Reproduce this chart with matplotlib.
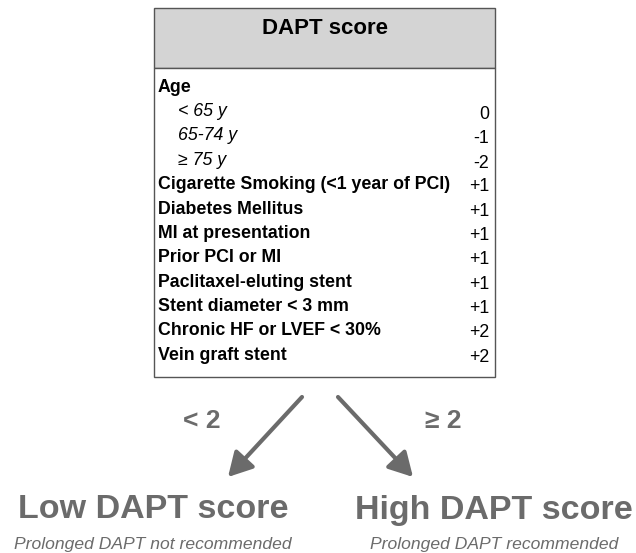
import matplotlib
import matplotlib.pyplot as plt
from matplotlib.patches import Rectangle, FancyArrowPatch

matplotlib.use('Agg')
plt.rcParams['font.family'] = ['Liberation Sans', 'DejaVu Sans']

# Score table content
title = "DAPT score"
age_header = "Age"
age_groups = ["< 65 y", "65-74 y", "\u2265 75 y"]
age_points = ["0", "-1", "-2"]
factors = ["Cigarette Smoking (<1 year of PCI)", "Diabetes Mellitus", "MI at presentation",
           "Prior PCI or MI", "Paclitaxel-eluting stent", "Stent diameter < 3 mm",
           "Chronic HF or LVEF < 30%", "Vein graft stent"]
factor_points = ["+1", "+1", "+1", "+1", "+1", "+1", "+2", "+2"]

# Outcomes
branch_labels = ["< 2", "\u2265 2"]
outcomes = ["Low DAPT score", "High DAPT score"]
outcome_notes = ["Prolonged DAPT not recommended", "Prolonged DAPT recommended"]

grey = '#6b6b6b'

fig = plt.figure(figsize=(6.36, 5.53), dpi=100)
ax = fig.add_axes([0, 0, 1, 1])
ax.set_xlim(0, 636)
ax.set_ylim(553, 0)
ax.axis('off')

# box + header
ax.add_patch(Rectangle((154, 8), 341, 60, facecolor='#d4d4d4', edgecolor='#555555', lw=1))
ax.add_patch(Rectangle((154, 68), 341, 309, facecolor='white', edgecolor='#555555', lw=1))
ax.text(325, 28, title, ha='center', va='center', fontsize=16, fontweight='bold')

fs = 12.8
ax.text(158, 87, age_header, ha='left', va='center', fontsize=fs, fontweight='bold')
y = 87
step = 24.4
for lab, pts in zip(age_groups, age_points):
    y += step
    ax.text(178, y, lab, ha='left', va='center', fontsize=fs, style='italic')
    ax.text(489, y + 3, pts, ha='right', va='center', fontsize=fs)
for lab, pts in zip(factors, factor_points):
    y += step
    ax.text(158, y, lab, ha='left', va='center', fontsize=fs, fontweight='bold')
    ax.text(489, y + 2, pts, ha='right', va='center', fontsize=fs)

# arrows
for (x0, x1) in [(302, 228), (338, 413)]:
    ax.add_patch(FancyArrowPatch((x0, 397), (x1, 477), arrowstyle='-|>,head_length=9,head_width=5',
                                 mutation_scale=1.6, color=grey, lw=3, shrinkA=0, shrinkB=0))

ax.text(202, 421, branch_labels[0], ha='center', va='center', fontsize=19, fontweight='bold', color=grey)
ax.text(443, 421, branch_labels[1], ha='center', va='center', fontsize=19, fontweight='bold', color=grey)

for cx, name, note in zip([153, 494], outcomes, outcome_notes):
    ax.text(cx, 510, name, ha='center', va='center', fontsize=24.5, fontweight='bold', color=grey)
    ax.text(cx, 544, note, ha='center', va='center', fontsize=12.6, style='italic', color=grey)

fig.savefig("out.png", dpi=100)
